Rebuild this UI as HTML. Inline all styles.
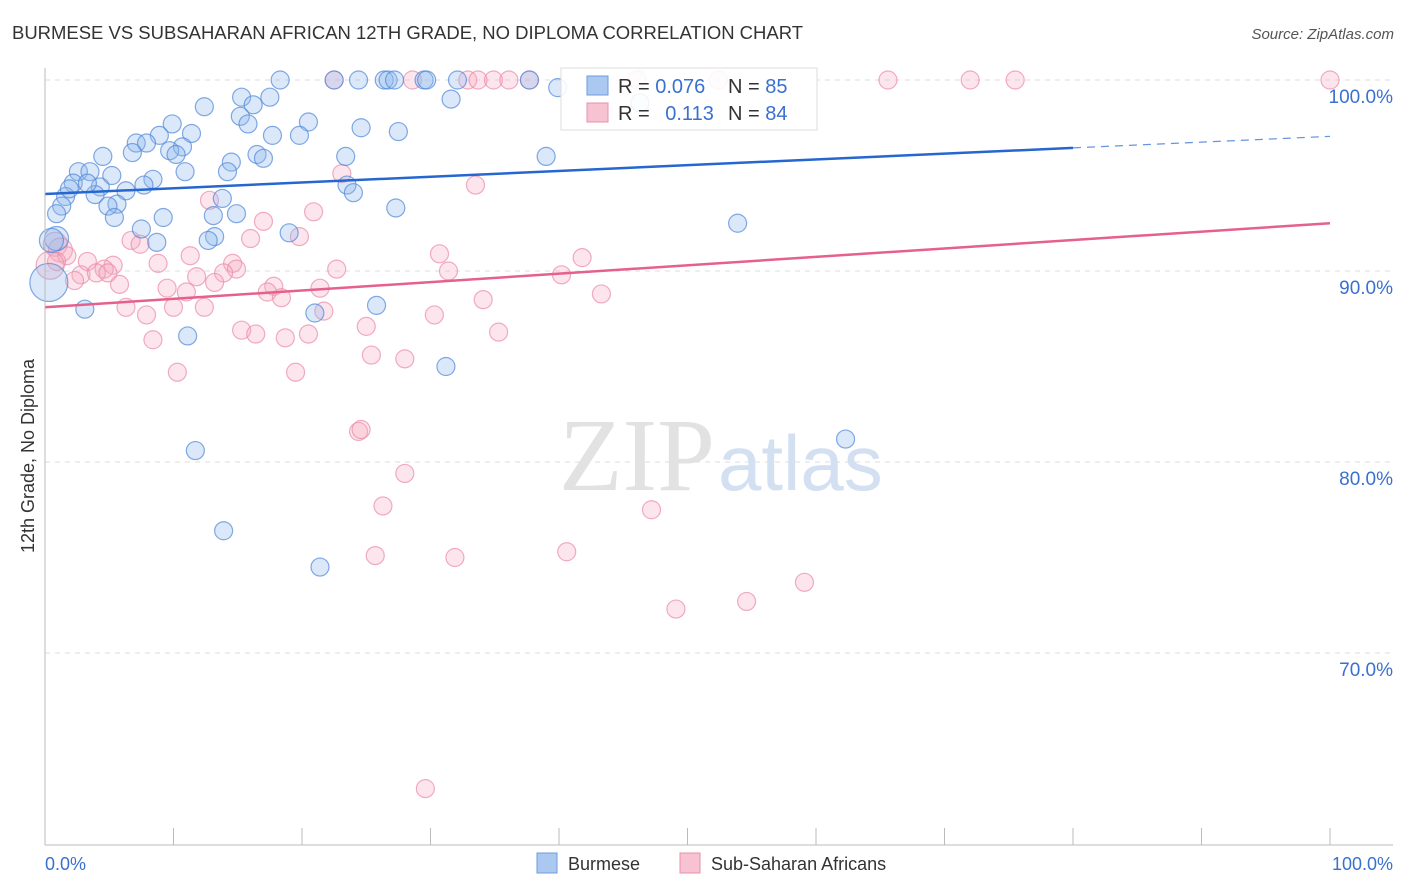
<!DOCTYPE html>
<html><head><meta charset="utf-8"><style>
body{margin:0;background:#fff;font-family:"Liberation Sans",sans-serif}
svg{display:block}
</style></head><body>
<svg id="chart" width="1406" height="892" xmlns="http://www.w3.org/2000/svg">
<text x="12" y="39" font-size="18" fill="#333" textLength="791" lengthAdjust="spacingAndGlyphs">BURMESE VS SUBSAHARAN AFRICAN 12TH GRADE, NO DIPLOMA CORRELATION CHART</text>
<text x="1394" y="39" font-size="15" fill="#555" font-style="italic" text-anchor="end">Source: ZipAtlas.com</text>
<g id="grid"></g>
<text x="715" y="490" font-size="104" fill="#e2e2e2" text-anchor="end" font-family="Liberation Serif,serif">ZIP</text>
<text x="718" y="490" font-size="78" fill="#d3e0f2">atlas</text>
<g id="pts"></g>
<g id="trend"></g>
<line x1="45" y1="68" x2="45" y2="845" stroke="#bbb"/>
<line x1="45" y1="845" x2="1393" y2="845" stroke="#bbb"/>
<g id="xt"></g>
<text x="45" y="870" font-size="18" fill="#3a70d0">0.0%</text>
<text x="1393" y="870" font-size="18" fill="#3a70d0" text-anchor="end">100.0%</text>
<text transform="translate(34,456) rotate(-90)" font-size="18" fill="#333" text-anchor="middle">12th Grade, No Diploma</text>
<g>
<rect x="561" y="68" width="256" height="62" fill="#fff" fill-opacity="0.88" stroke="#ddd"/>
<rect x="587" y="76" width="21" height="19" fill="#aac8f0" stroke="#6f9be0"/>
<rect x="587" y="103" width="21" height="19" fill="#f7c3d2" stroke="#ea8fab"/>
<text x="618" y="93" font-size="20" fill="#333">R = <tspan fill="#3a70d0">0.076</tspan></text>
<text x="728" y="93" font-size="20" fill="#333">N = <tspan fill="#3a70d0">85</tspan></text>
<text x="618" y="120" font-size="20" fill="#333">R = <tspan fill="#3a70d0" dx="10">0.113</tspan></text>
<text x="728" y="120" font-size="20" fill="#333">N = <tspan fill="#3a70d0">84</tspan></text>
</g>
<g>
<rect x="537" y="853" width="20" height="20" fill="#aac8f0" stroke="#6f9be0"/>
<text x="568" y="870" font-size="18" fill="#333">Burmese</text>
<rect x="680" y="853" width="20" height="20" fill="#f7c3d2" stroke="#ea8fab"/>
<text x="711" y="870" font-size="18" fill="#333">Sub-Saharan Africans</text>
</g>
</svg>
<script>
const yTicks=[100,90,80,70];
const yTickLabels=["100.0%","90.0%","80.0%","70.0%"];
const xTicks=[0,10,20,30,40,50,60,70,80,90,100];
const blueX=[22.5,24.4,26.4,26.7,27.2,29.5,29.7,32.1,37.7,18.3,39.9,31.6,15.3,17.5,16.2,12.4,15.2,15.8,20.5,9.9,24.6,27.5,11.4,17.7,19.8,8.9,7.1,7.9,10.7,6.8,4.5,9.7,10.2,23.4,39.0,16.5,17.0,14.5,2.6,3.5,10.9,14.2,5.2,2.2,8.4,7.7,4.3,6.3,23.5,24.0,3.9,1.6,1.3,5.6,4.9,27.3,13.8,14.9,9.2,13.1,0.9,5.4,7.5,53.9,19.0,13.2,12.7,8.7,0.9,0.5,0.3,3.1,25.8,21.0,11.1,31.2,62.3,11.7,13.9,21.4,3.3,1.9,46.3];
const blueY=[100,100,100,100,100,100,100,100,100,100,99.6,99.0,99.1,99.1,98.7,98.6,98.1,97.7,97.8,97.7,97.5,97.3,97.2,97.1,97.1,97.1,96.7,96.7,96.5,96.2,96.0,96.3,96.1,96.0,96.0,96.1,95.9,95.7,95.2,95.2,95.2,95.2,95.0,94.6,94.8,94.5,94.4,94.2,94.5,94.1,94.0,93.9,93.4,93.5,93.4,93.3,93.8,93.0,92.8,92.9,93.0,92.8,92.2,92.5,92.0,91.8,91.6,91.5,91.7,91.6,89.4,88.0,88.2,87.8,86.6,85.0,81.2,80.6,76.4,74.5,94.6,94.3,98.8];
const blueR=blueX.map((v,i)=>i===70?19:(i===68||i===69?12:9));
const pinkX=[22.5,28.6,32.9,33.7,34.9,36.1,37.7,46.1,52.4,65.6,72.0,75.5,100,33.5,23.1,12.8,17.0,20.9,16.0,19.8,6.7,7.4,0.8,1.2,1.7,0.9,0.4,3.3,5.3,4.6,2.8,2.3,4.0,4.9,11.3,8.8,14.6,14.9,13.9,11.8,13.2,5.8,9.5,11.0,17.8,17.3,18.4,21.4,22.7,30.7,31.4,41.8,40.2,43.3,34.1,6.3,7.9,10.0,12.4,21.7,30.3,35.3,25.0,15.3,16.4,20.5,18.7,8.4,25.4,28.0,19.5,10.3,24.4,24.6,28.0,26.3,47.2,25.7,31.9,40.6,49.1,54.6,59.1,29.6];
const pinkY=[100,100,100,100,100,100,100,100,100,100,100,100,100,94.5,95.1,93.7,92.6,93.1,91.7,91.8,91.6,91.4,91.4,91.1,90.8,90.5,90.3,90.5,90.3,90.1,89.8,89.5,89.9,89.9,90.8,90.4,90.4,90.1,89.9,89.7,89.4,89.3,89.1,88.9,89.2,88.9,88.6,89.1,90.1,90.9,90.0,90.7,89.8,88.8,88.5,88.1,87.7,88.1,88.1,87.9,87.7,86.8,87.1,86.9,86.7,86.7,86.5,86.4,85.6,85.4,84.7,84.7,81.6,81.7,79.4,77.7,77.5,75.1,75.0,75.3,72.3,72.7,73.7,62.9];
const pinkR=pinkX.map((v,i)=>i===26?14:(i===22||i===23?12:9));
const blueTrend=[94.03,0.0302];
const pinkTrend=[88.1,0.044];
const X=v=>45+v*12.85;
const Y=v=>80+(100-v)*19.1;
const NS="http://www.w3.org/2000/svg";
function mk(tag,attrs,parent){const e=document.createElementNS(NS,tag);for(const k in attrs)e.setAttribute(k,attrs[k]);parent.appendChild(e);return e;}
const grid=document.getElementById('grid');
yTicks.forEach((t,i)=>{
 const l=mk('line',{x1:45,x2:1393,y1:Y(t),y2:Y(t),stroke:'#ddd','stroke-dasharray':'5,5'},grid);
 
 
 const tx=mk('text',{x:1393,y:Y(t)+23,'font-size':19,fill:'#3a70d0','text-anchor':'end'},grid);
 tx.textContent=yTickLabels[i];
 
 
});
const xt=document.getElementById('xt');
xTicks.forEach(t=>{
 const l=mk('line',{x1:X(t),x2:X(t),y1:828,y2:845,stroke:'#bbb'},xt);
 
 
});
const pts=document.getElementById('pts');
pinkX.forEach((x,i)=>{
 const c=mk('circle',{cx:X(x),cy:Y(pinkY[i]),r:pinkR[i],fill:'#f4a9bf','fill-opacity':0.3,stroke:'#eb8aa8','stroke-opacity':0.7,'stroke-width':1.2},pts);
 
 
});
blueX.forEach((x,i)=>{
 const c=mk('circle',{cx:X(x),cy:Y(blueY[i]),r:blueR[i],fill:'#90b8ec','fill-opacity':0.33,stroke:'#4f86d8','stroke-opacity':0.7,'stroke-width':1.2},pts);
 
 
});
const tr=document.getElementById('trend');
const f=(p,x)=>p[0]+p[1]*x;
const b1=mk('line',{x1:X(0),y1:Y(f(blueTrend,0)),x2:X(80),y2:Y(f(blueTrend,80)),stroke:'#2566d0','stroke-width':2.5},tr);


const b2=mk('line',{x1:X(80),y1:Y(f(blueTrend,80)),x2:X(100),y2:Y(f(blueTrend,100)),stroke:'#2566d0','stroke-width':1.2,'stroke-dasharray':'8,6','stroke-opacity':0.7},tr);


const p1=mk('line',{x1:X(0),y1:Y(f(pinkTrend,0)),x2:X(100),y2:Y(f(pinkTrend,100)),stroke:'#e5608a','stroke-width':2.5},tr);


</script>
</body></html>
